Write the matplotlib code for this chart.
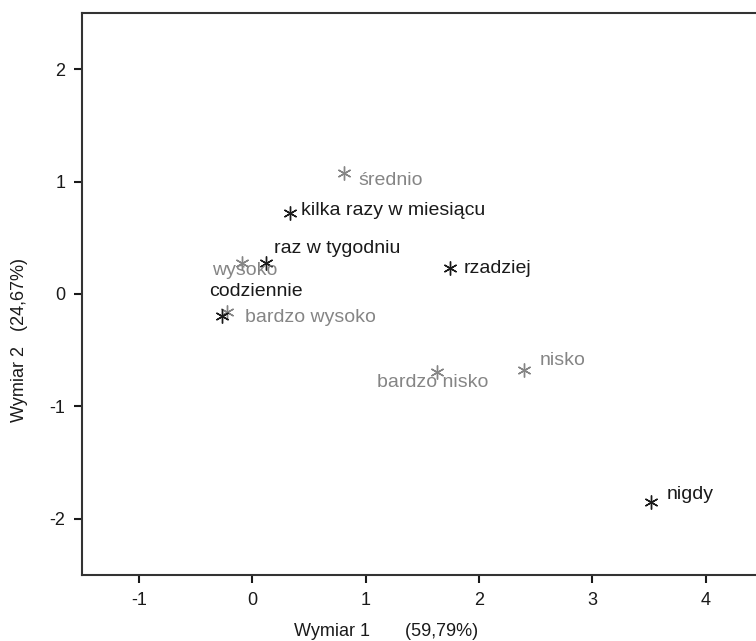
import numpy as np
import matplotlib.pyplot as plt

plt.rcParams['font.family'] = ['Liberation Sans', 'DejaVu Sans']
plt.rcParams['axes.unicode_minus'] = False

# row categories (frequency) - black
rows = ["codziennie", "raz w tygodniu", "kilka razy w miesiącu", "rzadziej", "nigdy"]
rows_x = [-0.27, 0.12, 0.33, 1.74, 3.52]
rows_y = [-0.20, 0.28, 0.72, 0.23, -1.85]

# column categories (level) - grey
cols = ["bardzo wysoko", "wysoko", "średnio", "nisko", "bardzo nisko"]
cols_x = [-0.22, -0.09, 0.81, 2.40, 1.63]
cols_y = [-0.16, 0.28, 1.08, -0.68, -0.69]

# label offsets in points (dx, dy, ha, va)
row_off = {
    "codziennie": (25, 12, "center", "bottom"),
    "raz w tygodniu": (6, 4, "left", "bottom"),
    "kilka razy w miesiącu": (8, 2, "left", "center"),
    "rzadziej": (10, 0, "left", "center"),
    "nigdy": (11, 5, "left", "center"),
}
col_off = {
    "bardzo wysoko": (13, -4, "left", "center"),
    "wysoko": (2, -6, "center", "center"),
    "średnio": (10, -6, "left", "center"),
    "nisko": (11, 7, "left", "center"),
    "bardzo nisko": (-3, -8, "center", "center"),
}

black = "#1a1a1a"
grey = "#858585"
star = (6, 2, 0)

fig = plt.figure(figsize=(7.56, 6.41), dpi=100)
ax = fig.add_axes([82 / 756, 66 / 641, (762.6 - 82) / 756, (575 - 13) / 641])

ax.plot(cols_x, cols_y, linestyle="none", marker=star, markersize=10,
        markeredgewidth=1.0, color=grey)
ax.plot(rows_x, rows_y, linestyle="none", marker=star, markersize=10,
        markeredgewidth=1.0, color=black)

for name, x, y in zip(cols, cols_x, cols_y):
    dx, dy, ha, va = col_off[name]
    ax.annotate(name, (x, y), xytext=(dx, dy), textcoords="offset points",
                ha=ha, va=va, fontsize=14, color=grey)
for name, x, y in zip(rows, rows_x, rows_y):
    dx, dy, ha, va = row_off[name]
    ax.annotate(name, (x, y), xytext=(dx, dy), textcoords="offset points",
                ha=ha, va=va, fontsize=14, color=black)

ax.set_xlim(-1.5, 4.5)
ax.set_ylim(-2.5, 2.5)
ax.set_xticks([-1, 0, 1, 2, 3, 4])
ax.set_yticks([-2, -1, 0, 1, 2])
ax.tick_params(direction="out", length=6, width=1.5, labelsize=13,
               color=black, labelcolor=black, pad=6)
for sp in ax.spines.values():
    sp.set_linewidth(1.5)
    sp.set_color("#333333")

fig.text(386 / 756, 1 - 632 / 641, "Wymiar 1       (59,79%)", ha="center",
         va="center", fontsize=13, color=black)
fig.text(20 / 756, 1 - 340 / 641, "Wymiar 2   (24,67%)", ha="center",
         va="center", rotation=90, fontsize=13, color=black)

fig.savefig("out.png", dpi=100)
